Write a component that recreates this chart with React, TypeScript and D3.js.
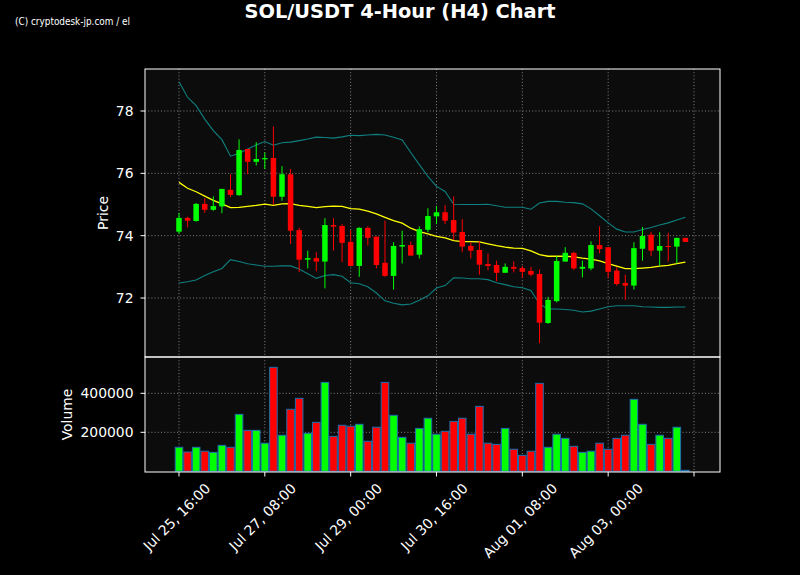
import React from 'react';
import * as d3 from 'd3';

const openP = [74.13,74.57,74.47,75.02,74.83,74.94,75.47,75.30,76.78,76.37,76.45,76.49,75.25,75.97,74.18,73.23,73.28,73.17,74.34,74.31,73.80,73.03,74.25,73.97,73.13,72.71,73.65,73.70,73.39,74.19,74.62,74.75,74.50,74.12,73.67,73.54,73.09,73.06,72.81,73.00,72.96,72.87,72.77,71.20,71.90,73.17,73.45,72.94,72.95,73.70,73.63,72.88,72.48,72.40,73.58,74.03,73.52,73.67,73.65,73.93];
const highP = [74.73,74.61,75.05,75.20,75.26,75.50,75.97,77.09,76.78,77.00,76.67,77.50,76.23,76.14,74.26,73.52,73.47,74.56,74.56,74.37,74.18,74.27,74.30,73.97,74.48,73.79,74.16,73.81,74.30,74.88,74.95,74.98,75.26,74.53,73.79,73.82,73.43,73.20,73.11,73.18,73.03,73.00,72.92,72.04,73.34,73.63,73.49,73.20,73.82,74.30,73.63,72.99,72.75,73.79,74.28,74.11,74.11,74.09,73.93,73.93];
const lowP = [74.06,74.27,74.45,74.73,74.80,74.72,75.24,75.28,75.97,76.25,76.14,74.99,75.12,73.73,72.83,72.95,72.86,72.31,73.52,73.15,73.02,72.68,73.68,72.95,72.68,72.27,73.11,73.36,73.27,74.11,74.37,74.37,73.86,73.47,73.27,72.75,72.89,72.54,72.81,72.82,72.64,72.70,70.55,71.17,71.86,73.17,72.90,72.66,72.89,73.43,72.64,72.40,71.94,72.27,73.20,73.34,73.04,73.17,73.11,73.80];
const closeP = [74.57,74.48,75.02,74.83,74.95,75.50,75.31,76.75,76.37,76.46,76.49,75.25,75.97,74.16,73.23,73.28,73.17,74.34,74.29,73.77,73.03,74.25,73.93,73.06,72.71,73.67,73.70,73.36,74.21,74.63,74.75,74.48,74.10,73.65,73.52,73.07,73.03,72.81,73.00,72.94,72.84,72.75,71.21,71.94,73.19,73.45,72.95,73.00,73.70,73.57,72.84,72.45,72.40,73.60,73.99,73.52,73.67,73.65,73.93,73.80];
const volume = [123000,99000,123000,103000,97000,133000,123000,292000,210000,210000,144000,533000,185000,318000,374000,195000,251000,456000,179000,236000,231000,241000,154000,226000,456000,287000,174000,144000,220000,272000,190000,205000,256000,272000,190000,333000,144000,138000,220000,113000,82000,103000,451000,123000,190000,169000,128000,97000,103000,144000,113000,169000,185000,369000,241000,138000,185000,169000,226000,5000];
const bbUpper = [78.94,78.44,78.17,77.74,77.37,77.08,76.55,76.64,76.78,76.91,77.02,76.90,76.98,77.00,77.05,77.10,77.16,77.15,77.13,77.17,77.22,77.21,77.23,77.25,77.23,77.16,77.07,76.67,76.28,75.90,75.58,75.42,75.01,75.00,75.00,75.00,75.01,74.96,74.91,74.91,74.91,74.85,75.05,75.10,75.10,75.07,75.06,75.02,74.86,74.64,74.41,74.21,74.12,74.12,74.20,74.26,74.34,74.41,74.50,74.59];
const bbMiddle = [75.71,75.52,75.41,75.27,75.13,75.02,74.90,74.91,74.94,74.97,75.01,74.97,75.02,75.03,74.97,74.94,74.90,74.93,74.95,74.94,74.87,74.85,74.79,74.70,74.59,74.48,74.40,74.24,74.13,74.06,73.98,73.93,73.84,73.81,73.81,73.80,73.74,73.68,73.63,73.60,73.59,73.51,73.39,73.34,73.34,73.34,73.32,73.28,73.25,73.19,73.10,73.02,72.94,72.94,72.96,72.98,73.02,73.05,73.10,73.15];
const bbLower = [72.48,72.52,72.58,72.72,72.84,72.95,73.23,73.17,73.10,73.06,73.02,73.02,73.03,73.03,72.93,72.78,72.63,72.72,72.75,72.70,72.49,72.46,72.36,72.16,71.91,71.83,71.78,71.81,71.93,72.07,72.32,72.40,72.65,72.64,72.62,72.62,72.59,72.49,72.43,72.36,72.33,72.24,71.81,71.65,71.65,71.63,71.61,71.55,71.58,71.65,71.72,71.75,71.75,71.75,71.72,71.71,71.70,71.70,71.71,71.71];
const xTickIdx = [0, 10, 20, 30, 40, 50, 60];
const xTickLabels = ["Jul 25, 16:00", "Jul 27, 08:00", "Jul 29, 00:00", "Jul 30, 16:00", "Aug 01, 08:00", "Aug 03, 00:00", ""];
const priceTicks = [72, 74, 76, 78];
const volTicks = [200000, 400000];

const FONT = '"DejaVu Sans", sans-serif';
const FS = 13.9;

function measure(s: string): number {
  try {
    const c = document.createElement('canvas').getContext('2d');
    if (c) {
      c.font = `${FS}px "DejaVu Sans"`;
      return c.measureText(s).width;
    }
  } catch (e) {}
  return s.length * FS * 0.55;
}

export default function App() {
  const W = 800, H = 575;
  const L = 145, R = 720, pT = 69, pB = 357, vT = 357, vB = 472;
  const x = d3.scaleLinear().domain([-3.96, 63.03]).range([L, R]);
  const yP = d3.scaleLinear().domain([70.108, 79.347]).range([pB, pT]);
  const yV = d3.scaleLinear().domain([-3590, 586154]).range([vB, vT]);
  const step = x(1) - x(0);
  const mkLine = (arr: number[]) =>
    d3.line<number>().x((_, i) => x(i)).y((d) => yP(d))(arr) || '';
  const green = '#00ff00', red = '#ff0000';
  const gridColor = '#9a9a9a';
  const tickLen = 4.5;

  return (
    <svg width={W} height={H} style={{ position: 'absolute', left: 0, top: 0, display: 'block', background: '#000' }} fontFamily={FONT}>
      <rect x={0} y={0} width={W} height={H} fill="#000" />
      <defs>
        <clipPath id="clipP"><rect x={L} y={pT} width={R - L} height={pB - pT} /></clipPath>
        <clipPath id="clipV"><rect x={L} y={vT} width={R - L} height={vB - vT} /></clipPath>
      </defs>
      <rect x={L} y={pT} width={R - L} height={pB - pT} fill="#0c0c0c" />
      <rect x={L} y={vT} width={R - L} height={vB - vT} fill="#0c0c0c" />

      <g stroke={gridColor} strokeWidth={1} strokeDasharray="1,2.2" opacity={0.85}>
        {xTickIdx.map((t) => (
          <g key={'gx' + t}>
            <line x1={x(t)} x2={x(t)} y1={pT} y2={pB} />
            <line x1={x(t)} x2={x(t)} y1={vT} y2={vB} />
          </g>
        ))}
        {priceTicks.map((t) => (
          <line key={'gp' + t} x1={L} x2={R} y1={yP(t)} y2={yP(t)} />
        ))}
        {volTicks.map((t) => (
          <line key={'gv' + t} x1={L} x2={R} y1={yV(t)} y2={yV(t)} />
        ))}
      </g>

      <g clipPath="url(#clipP)">
        <path d={mkLine(bbUpper)} fill="none" stroke="#0e8080" strokeWidth={1.1} />
        <path d={mkLine(bbLower)} fill="none" stroke="#0e8080" strokeWidth={1.1} />
        <path d={mkLine(bbMiddle)} fill="none" stroke="#ffff00" strokeWidth={1.3} />
        {openP.map((o, i) => {
          const c = closeP[i];
          const col = c >= o ? green : red;
          const top = yP(Math.max(o, c));
          const bot = yP(Math.min(o, c));
          const bw = step * 0.64;
          return (
            <g key={'c' + i}>
              <line x1={x(i)} x2={x(i)} y1={yP(highP[i])} y2={yP(lowP[i])} stroke={col} strokeWidth={1} />
              <rect x={x(i) - bw / 2} y={top} width={bw} height={Math.max(bot - top, 1)} fill={col} />
            </g>
          );
        })}
      </g>

      <g clipPath="url(#clipV)">
        {volume.map((v, i) => {
          const col = closeP[i] >= openP[i] ? green : red;
          const bw = step * 0.88;
          return (
            <rect key={'v' + i} x={x(i) - bw / 2} y={yV(v)} width={bw} height={yV(0) - yV(v)} fill={col} stroke="#1f6fae" strokeWidth={1} />
          );
        })}
      </g>

      <rect x={L} y={pT} width={R - L} height={pB - pT} fill="none" stroke="#fff" strokeWidth={1} />
      <rect x={L} y={vT} width={R - L} height={vB - vT} fill="none" stroke="#fff" strokeWidth={1} />

      {priceTicks.map((t) => (
        <g key={'yt' + t}>
          <line x1={L - tickLen} x2={L} y1={yP(t)} y2={yP(t)} stroke="#fff" strokeWidth={1} />
          <text x={L - 11.5} y={yP(t)} fill="#fff" fontSize={FS} textAnchor="end" dominantBaseline="central">{t}</text>
        </g>
      ))}
      {volTicks.map((t) => (
        <g key={'vt' + t}>
          <line x1={L - tickLen} x2={L} y1={yV(t)} y2={yV(t)} stroke="#fff" strokeWidth={1} />
          <text x={L - 11.5} y={yV(t)} fill="#fff" fontSize={FS} textAnchor="end" dominantBaseline="central">{t}</text>
        </g>
      ))}

      {xTickIdx.map((t, k) => {
        const lab = xTickLabels[k];
        const w = lab ? measure(lab) : 0;
        const bh = (w + 8) * Math.SQRT1_2;
        const cy = 483 + bh / 2;
        return (
          <g key={'xt' + t}>
            <line x1={x(t)} x2={x(t)} y1={vB} y2={vB + tickLen} stroke="#fff" strokeWidth={1} />
            {lab && (
              <text transform={`translate(${x(t) - 2.3},${cy}) rotate(-45)`} fill="#fff" fontSize={FS} textAnchor="middle" dominantBaseline="central">{lab}</text>
            )}
          </g>
        );
      })}

      <text transform={`translate(103,${(pT + pB) / 2}) rotate(-90)`} fill="#fff" fontSize={FS} textAnchor="middle" dominantBaseline="central">Price</text>
      <text transform={`translate(67,${(vT + vB) / 2}) rotate(-90)`} fill="#fff" fontSize={FS} textAnchor="middle" dominantBaseline="central">Volume</text>

      <text x={400} y={18} fill="#fff" fontSize={19.4} fontWeight="bold" textAnchor="middle">SOL/USDT 4-Hour (H4) Chart</text>
      <text x={15} y={25} fill="#fff" fontSize={11} fontFamily='"Liberation Sans Narrow", "DejaVu Sans Condensed", sans-serif' textLength={115} lengthAdjust="spacingAndGlyphs">(C) cryptodesk-jp.com / el</text>
    </svg>
  );
}
